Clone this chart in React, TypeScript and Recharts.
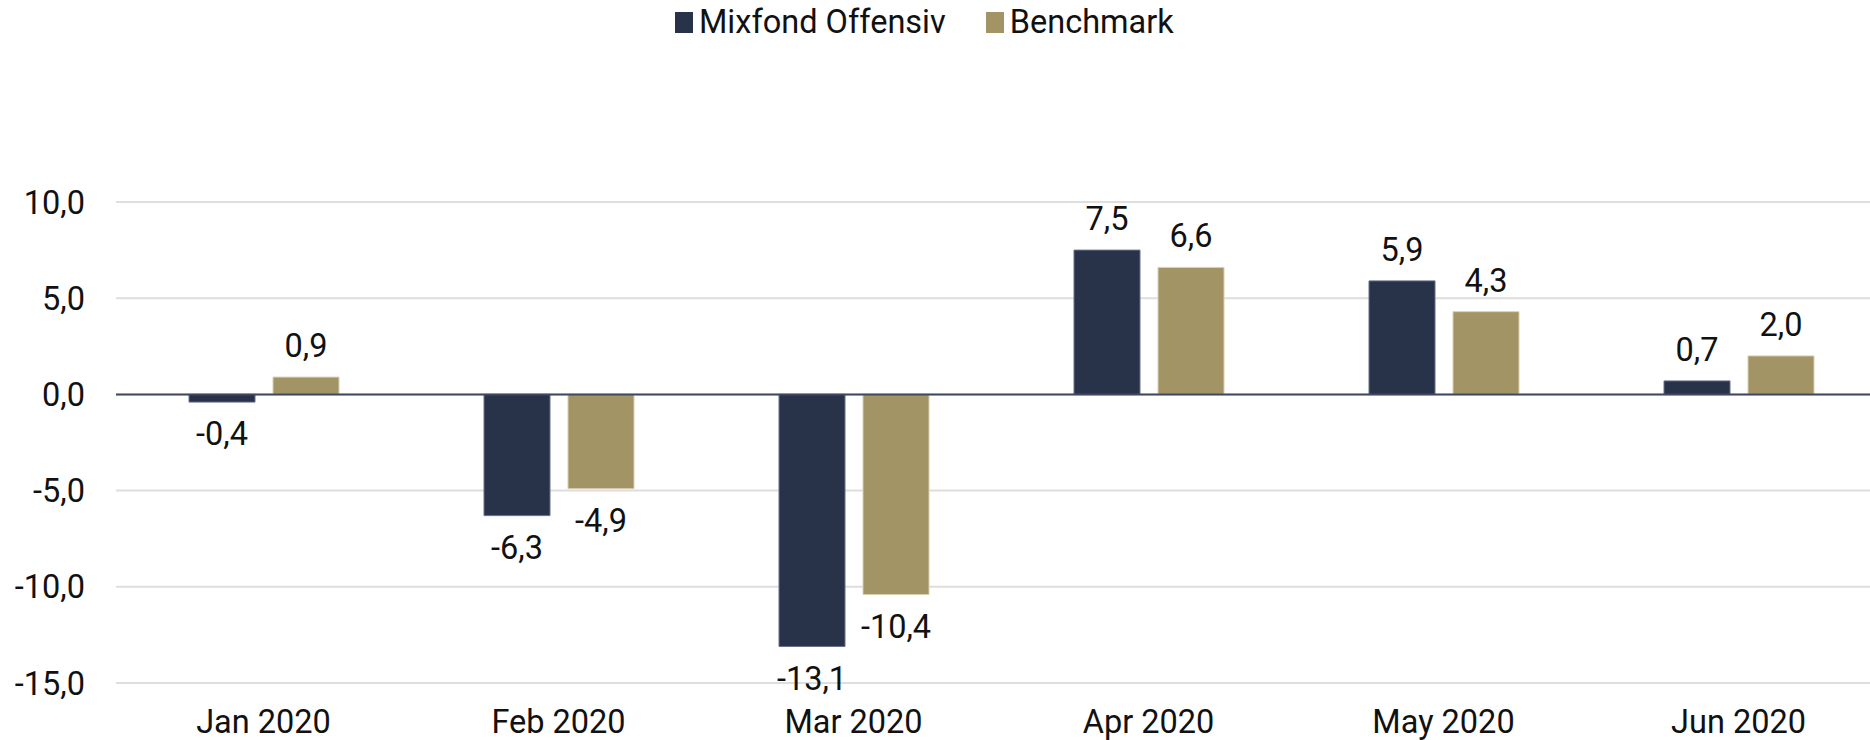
import React from "react";
import {
    BarChart,
    Bar,
    XAxis,
    YAxis,
    CartesianGrid,
    ReferenceLine,
    LabelList,
} from "recharts";

const months = ["Jan 2020", "Feb 2020", "Mar 2020", "Apr 2020", "May 2020", "Jun 2020"];
const fundValues = [-0.4, -6.3, -13.1, 7.5, 5.9, 0.7];
const benchmarkValues = [0.9, -4.9, -10.4, 6.6, 4.3, 2.0];
const seriesNames = ["Mixfond Offensiv", "Benchmark"];
const yTicks = [-15, -10, -5, 0, 5, 10];

const NAVY = "#283249";
const GOLD = "#a39466";
const FONT = "Roboto, 'Noto Sans', sans-serif";
const FS = 32.5;

const fmt = (v: number) => v.toFixed(1).replace(".", ",");

const chartData = months.map((m, i) => ({
    month: m,
    fund: fundValues[i],
    bench: benchmarkValues[i],
}));

const legendItems = [
    { name: seriesNames[0], color: NAVY },
    { name: seriesNames[1], color: GOLD },
];

const App: React.FC = () => {
    return (
        <div
            style={{
                position: "fixed",
                left: 0,
                top: 0,
                width: 1870,
                height: 740,
                overflow: "hidden",
                background: "#fff",
                fontFamily: FONT,
            }}
        >
            {/* legend */}
            <div
                style={{
                    position: "absolute",
                    left: 675,
                    top: 3,
                    display: "flex",
                    alignItems: "center",
                    fontSize: FS,
                    color: "#111",
                    zIndex: 2,
                }}
            >
                {legendItems.map((it, i) => (
                    <div
                        key={it.name}
                        style={{ display: "flex", alignItems: "center", marginRight: i === 0 ? 40 : 0 }}
                    >
                        <span
                            style={{
                                display: "inline-block",
                                width: 18,
                                height: 21,
                                background: it.color,
                                marginRight: 6,
                            }}
                        />
                        <span>{it.name}</span>
                    </div>
                ))}
            </div>

            <BarChart
                width={1886}
                height={740}
                data={chartData}
                margin={{ top: 202, right: 0, left: 0, bottom: 0 }}
                barGap={18}
                style={{ position: "absolute", left: 0, top: 0 }}
            >
                <CartesianGrid vertical={false} stroke="#dedede" strokeWidth={2} />
                <XAxis
                    dataKey="month"
                    axisLine={false}
                    tickLine={false}
                    tickSize={0}
                    tickMargin={27}
                    height={57}
                    interval={0}
                    tick={{ fontSize: FS, fill: "#111", fontFamily: FONT }}
                />
                <YAxis
                    domain={[-15, 10]}
                    ticks={yTicks}
                    width={116}
                    axisLine={false}
                    tickLine={false}
                    tickSize={0}
                    tickMargin={31}
                    tickFormatter={fmt}
                    tick={{ fontSize: FS, fill: "#111", fontFamily: FONT }}
                />
                <ReferenceLine y={0} stroke="#3f4860" strokeWidth={2} />
                <Bar
                    dataKey="fund"
                    name={seriesNames[0]}
                    fill={NAVY}
                    stroke="#66708a"
                    strokeWidth={1}
                    barSize={66}
                    isAnimationActive={false}
                >
                    <LabelList
                        dataKey="fund"
                        position="top"
                        offset={20}
                        formatter={(v: any) => fmt(Number(v))}
                        style={{ fontSize: FS, fill: "#111", fontFamily: FONT }}
                    />
                </Bar>
                <Bar
                    dataKey="bench"
                    name={seriesNames[1]}
                    fill={GOLD}
                    stroke="#d9d0b2"
                    strokeWidth={1}
                    barSize={66}
                    isAnimationActive={false}
                >
                    <LabelList
                        dataKey="bench"
                        position="top"
                        offset={20}
                        formatter={(v: any) => fmt(Number(v))}
                        style={{ fontSize: FS, fill: "#111", fontFamily: FONT }}
                    />
                </Bar>
            </BarChart>
        </div>
    );
};

export default App;
